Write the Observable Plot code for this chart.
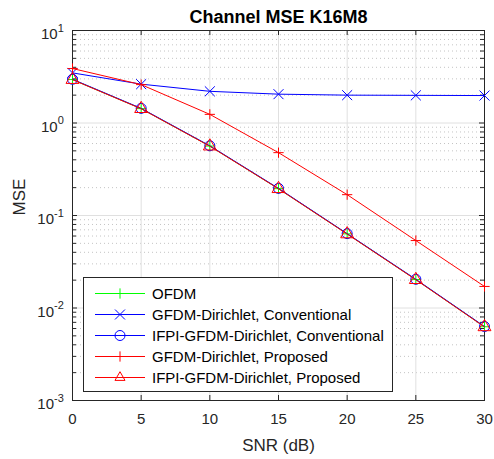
<!DOCTYPE html>
<html><head><meta charset="utf-8">
<script src="https://cdn.jsdelivr.net/npm/d3@7"></script>
<script src="https://cdn.jsdelivr.net/npm/@observablehq/plot@0.6"></script>
<style>
body{margin:0;background:#fff;}
#wrap{position:relative;width:494px;height:459px;font-family:"Liberation Sans",Arial,Helvetica,sans-serif;color:#262626;}
#legend{position:absolute;left:83px;top:277px;width:310px;height:115px;background:#fff;border:1px solid #262626;box-sizing:border-box;}
</style></head><body><div id="wrap"></div>
<script>
// ---- data ----
const snr = [0, 5, 10, 15, 20, 25, 30];
const ofdm = [2.95, 1.43, 0.563, 0.195, 0.0633, 0.0203, 0.00627];
const gfdmConv = [3.48, 2.63, 2.20, 2.05, 2.00, 1.99, 1.98];
const ifpiConv = [2.97, 1.44, 0.567, 0.1965, 0.0637, 0.02045, 0.00631];
const gfdmProp = [3.88, 2.60, 1.24, 0.478, 0.168, 0.0536, 0.0171];
const ifpiProp = [2.94, 1.425, 0.561, 0.1943, 0.0630, 0.0202, 0.00624];
const seriesNames = ["OFDM", "GFDM-Dirichlet, Conventional", "IFPI-GFDM-Dirichlet, Conventional", "GFDM-Dirichlet, Proposed", "IFPI-GFDM-Dirichlet, Proposed"];
const xTicks = [0, 5, 10, 15, 20, 25, 30];
const yTicks = [1e-3, 1e-2, 1e-1, 1e0, 1e1];
const yTickExp = ["-3", "-2", "-1", "0", "1"];
const titleText = "Channel MSE K16M8";
const xLabel = "SNR (dB)";
const yLabel = "MSE";

// ---- styling ----
const styles = [
  {color: "#00ff00", symbol: "plus", r: 3.4},
  {color: "#0000ff", symbol: "times", r: 4.6},
  {color: "#0000ff", symbol: "circle", r: 5},
  {color: "#ff0000", symbol: "plus", r: 3.4},
  {color: "#ff0000", symbol: "triangle", r: 4.8}
];
const allValues = [ofdm, gfdmConv, ifpiConv, gfdmProp, ifpiProp];
const W = 494, H = 459, ml = 72, mr = 10, mt = 30, mb = 59;
const pw = W - ml - mr, ph = H - mt - mb;

const yMinor = [];
for (let d = -3; d < 1; d++) for (let k = 2; k <= 9; k++) yMinor.push(k * Math.pow(10, d));

const marks = [];
marks.push(Plot.ruleY(yMinor, {stroke: "#c4c4c4", strokeDasharray: "1,3"}));
marks.push(Plot.ruleX(xTicks.slice(1, -1), {stroke: "#e0e0e0"}));
marks.push(Plot.ruleY(yTicks.slice(1, -1), {stroke: "#e0e0e0"}));

// inward ticks and box (drawn below the data, like MATLAB)
marks.push(Plot.tickY(yTicks, {y: d => d, insetRight: pw - 5, stroke: "#262626"}));
marks.push(Plot.tickY(yTicks, {y: d => d, insetLeft: pw - 5, stroke: "#262626"}));
marks.push(Plot.tickY(yMinor, {y: d => d, insetRight: pw - 4, stroke: "#262626"}));
marks.push(Plot.tickY(yMinor, {y: d => d, insetLeft: pw - 4, stroke: "#262626"}));
marks.push(Plot.tickX(xTicks, {x: d => d, insetTop: ph - 5, stroke: "#262626"}));
marks.push(Plot.tickX(xTicks, {x: d => d, insetBottom: ph - 5, stroke: "#262626"}));
marks.push(Plot.frame({stroke: "#262626"}));

allValues.forEach((vals, i) => {
  const data = snr.map((x, j) => ({x, y: vals[j]}));
  const s = styles[i];
  marks.push(Plot.line(data, {x: "x", y: "y", stroke: s.color, strokeWidth: 1}));
  marks.push(Plot.dot(data, {x: "x", y: "y", symbol: s.symbol, r: s.r, stroke: s.color, fill: "none", strokeWidth: 1}));
});

marks.push(Plot.axisX(xTicks, {anchor: "bottom", tickSize: 0, tickPadding: 13, fontSize: 15, label: null}));
marks.push(Plot.axisY(yTicks, {anchor: "left", tickSize: 0, tickPadding: 8.7, dy: 4, fontSize: 15, label: null,
  tickFormat: d => "10^" + yTickExp[yTicks.indexOf(d)]}));

marks.push(Plot.text([xLabel], {frameAnchor: "bottom", lineAnchor: "middle", dy: 45, fontSize: 17, fill: "#262626"}));
marks.push(Plot.text([yLabel], {frameAnchor: "left", lineAnchor: "middle", dx: -53, rotate: -90, fontSize: 17, fill: "#262626"}));
marks.push(Plot.text([titleText], {frameAnchor: "top", lineAnchor: "middle", dy: -13.5, fontSize: 18, fontWeight: "bold", fill: "#000"}));

const svg = Plot.plot({
  width: W, height: H,
  marginLeft: ml, marginRight: mr, marginTop: mt, marginBottom: mb,
  style: {fontFamily: "'Liberation Sans', Arial, Helvetica, sans-serif", fontSize: "15px", color: "#262626", background: "#fff", overflow: "visible"},
  x: {domain: [0, 30]},
  y: {type: "log", domain: [1e-3, 10]},
  marks
});

d3.select(svg).selectAll('g[aria-label="y-axis tick label"] text').each(function () {
  const t = this.textContent;
  const [b, e] = t.split("^");
  const sel = d3.select(this);
  sel.text(null);
  sel.append("tspan").text(b);
  sel.append("tspan").attr("dy", -7.5).attr("font-size", "11px").text(e);
});

const wrap = document.getElementById("wrap");
wrap.appendChild(svg);

// legend (overlay inside axes, like MATLAB)
const leg = d3.select(wrap).append("div").attr("id", "legend");
const lsvg = leg.append("svg").attr("width", 308).attr("height", 113);
seriesNames.forEach((name, i) => {
  const s = styles[i];
  const y = 15.5 + 21 * i;
  const g = lsvg.append("g");
  g.append("line").attr("x1", 11).attr("x2", 61).attr("y1", y).attr("y2", y).attr("stroke", s.color).attr("stroke-width", 1);
  const symMap = {plus: d3.symbolPlus, times: d3.symbolTimes, circle: d3.symbolCircle, triangle: d3.symbolTriangle2};
  g.append("path").attr("transform", `translate(36,${y})`)
    .attr("d", d3.symbol(symMap[s.symbol], s.r * s.r * Math.PI)())
    .attr("fill", "none").attr("stroke", s.color).attr("stroke-width", 1);
  g.append("text").attr("x", 68).attr("y", y).attr("dy", "0.35em")
    .attr("font-size", 15).attr("fill", "#000")
    .attr("font-family", "'Liberation Sans', Arial, Helvetica, sans-serif").text(name);
});
</script>
</body></html>
